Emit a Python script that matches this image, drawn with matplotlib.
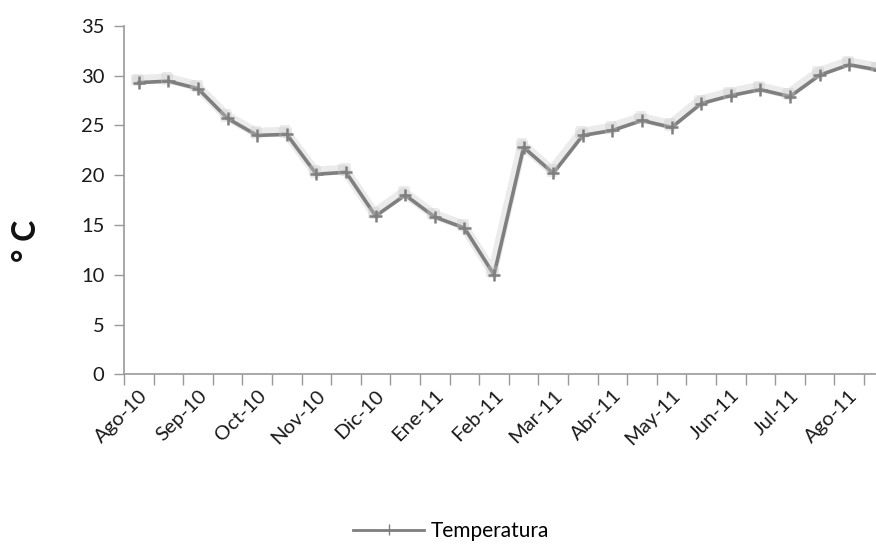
import matplotlib
matplotlib.use("Agg")
import matplotlib.pyplot as plt
import matplotlib.patheffects as pe
import numpy as np

plt.rcParams['font.family'] = ['Lato', 'DejaVu Sans']

temperatura = [29.3, 29.45, 28.7, 25.7, 24.0, 24.1, 20.1, 20.3, 15.9, 18.0, 15.8, 14.7, 10.0,
               22.8, 20.2, 24.0, 24.5, 25.5, 24.8, 27.2, 28.0, 28.6, 27.9, 30.05, 31.1, 30.55]
tick_labels = ['Ago-10', 'Sep-10', 'Oct-10', 'Nov-10', 'Dic-10', 'Ene-11', 'Feb-11',
               'Mar-11', 'Abr-11', 'May-11', 'Jun-11', 'Jul-11', 'Ago-11']
series_name = 'Temperatura'

fig = plt.figure(figsize=(8.76, 5.44), dpi=100)
ax = fig.add_axes([124/876, (544-374.3)/544, (893.6-124)/876, (374.3-25.9)/544])

x = np.arange(len(temperatura))
gray = '#7f7f7f'
line, = ax.plot(x, temperatura, color=gray, lw=2.6, marker='+', ms=9, mew=1.8,
                label=series_name, clip_on=False,
                path_effects=[pe.SimpleLineShadow(offset=(-1, 2), shadow_color='#c8c8c8', alpha=0.35, linewidth=7),
                              pe.Normal()])

ax.set_xlim(-0.5, 25.5)
ax.set_ylim(0, 35)
ax.set_yticks(np.arange(0, 36, 5))

ax.set_xticks(x[::2])
ax.set_xticklabels(tick_labels, rotation=45, ha='right', va='top', rotation_mode='anchor')
ax.set_xticks(np.arange(-0.5, 26, 1), minor=True)
ax.tick_params(axis='x', which='major', length=0, pad=9, labelsize=14.5, labelcolor='#1a1a1a')
ax.tick_params(axis='x', which='minor', length=8, width=1, color='#999999', direction='out')
ax.tick_params(axis='y', length=7, width=1, color='#999999', pad=7, labelsize=14.5, labelcolor='#1a1a1a')

for s in ['top', 'right']:
    ax.spines[s].set_visible(False)
for s in ['left', 'bottom']:
    ax.spines[s].set_color('#999999')
    ax.spines[s].set_linewidth(1.2)

fig.text(27/876, 1 - 241/544, '° C', rotation=90, fontsize=23, fontweight='bold',
         ha='center', va='center', color='#111111')

leg = fig.legend(handles=[line], loc='center', bbox_to_anchor=(451/876, 1 - 531/544),
                 frameon=False, fontsize=15, handlelength=3.4, handletextpad=0.3, markerscale=1)
for h in leg.legend_handles:
    h.set_path_effects([pe.Normal()])
    h.set_linewidth(2)
    h.set_markersize(8)
    h.set_markeredgewidth(1)

fig.savefig('out.png', dpi=100)
